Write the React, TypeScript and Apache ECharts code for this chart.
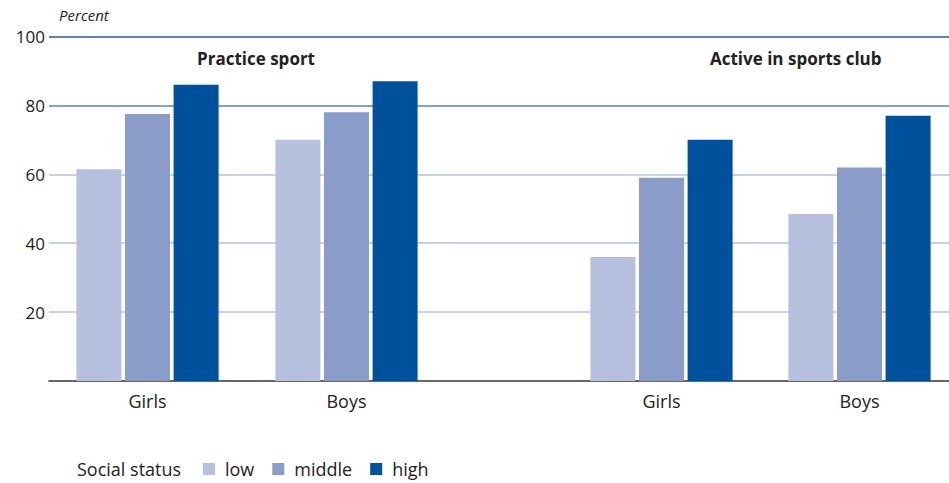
import React, { useEffect, useRef } from "react";
import * as echarts from "echarts";

const groupLabels = ["Girls", "Boys", "Girls", "Boys"];
const groupPositions = [0.985, 2.975, 6.125, 8.105];
const seriesNames = ["low", "middle", "high"];
const lowValues = [61.5, 70, 36, 48.5];
const middleValues = [77.5, 78, 59, 62];
const highValues = [86, 87, 70, 77];
const panelTitles = ["Practice sport", "Active in sports club"];
const yTicks = [0, 20, 40, 60, 80, 100];

const colors = ["#b6bfdd", "#8a9cc8", "#00519b"];
const FONT = "'Open Sans', sans-serif";
const TEXT = "#222222";

export default function App() {
  const ref = useRef<HTMLDivElement>(null);
  useEffect(() => {
    if (!ref.current) return;
    const chart = echarts.init(ref.current, null, { renderer: "svg" });
    const allValues = [lowValues, middleValues, highValues];
    const series = seriesNames.map((name, si) => ({
      name,
      type: "bar",
      barWidth: 45,
      barGap: "8%",
      itemStyle: { color: colors[si] },
      data: groupPositions.map((x, i) => [x, allValues[si][i]]),
    }));
    chart.setOption({
      animation: false,
      textStyle: { fontFamily: FONT },
      grid: {
        left: 49,
        right: 0,
        top: 36.5,
        bottom: 102,
        containLabel: false,
        outerBoundsMode: "none",
      },
      xAxis: {
        type: "value",
        min: 0,
        max: 9,
        splitLine: { show: false },
        axisTick: { show: false },
        axisLine: { show: true, onZero: false, lineStyle: { color: "#333333", width: 1.5 } },
        axisLabel: {
          customValues: groupPositions,
          margin: 11,
          fontSize: 18,
          color: TEXT,
          fontFamily: FONT,
          formatter: (v: number) => {
            let best = 0;
            groupPositions.forEach((p, i) => {
              if (Math.abs(p - v) < Math.abs(groupPositions[best] - v)) best = i;
            });
            return groupLabels[best];
          },
        },
      },
      yAxis: {
        type: "value",
        min: yTicks[0],
        max: yTicks[yTicks.length - 1],
        interval: 20,
        axisLine: { show: false },
        axisTick: { show: false },
        axisLabel: {
          margin: 4,
          fontSize: 17,
          color: TEXT,
          fontFamily: FONT,
          formatter: (v: number) => (v === 0 ? "" : String(v)),
        },
        splitLine: {
          show: true,
          lineStyle: {
            width: 1.5,
            color: ["#ffffff", "#b6bfe0", "#b6bfe0", "#b6bfe0", "#5a80c2", "#2a5a9e"],
          },
        },
      },
      legend: {
        left: 203,
        top: 459,
        padding: 0,
        icon: "rect",
        itemWidth: 12,
        itemHeight: 12,
        itemGap: 18,
        textStyle: { fontSize: 18, color: TEXT, fontFamily: FONT, lineHeight: 20, padding: [0, 0, 0, 5] },
        data: seriesNames,
      },
      graphic: [
        {
          type: "text",
          left: 59,
          top: 7,
          style: { text: "Percent", font: `italic 15px ${FONT}`, fill: TEXT },
        },
        {
          type: "text",
          left: 197,
          top: 50,
          style: { text: panelTitles[0], font: `bold 17px ${FONT}`, fill: TEXT },
        },
        {
          type: "text",
          left: 710,
          top: 50,
          style: { text: panelTitles[1], font: `bold 17px ${FONT}`, fill: TEXT },
        },
        {
          type: "text",
          left: 77,
          top: 459,
          style: { text: "Social status", font: `18px ${FONT}`, fill: TEXT, lineHeight: 20 },
        },
      ],
      series,
    });
    return () => chart.dispose();
  }, []);
  return (
    <div
      ref={ref}
      style={{ position: "fixed", left: 0, top: 0, width: 949, height: 483, background: "#fff" }}
    />
  );
}
